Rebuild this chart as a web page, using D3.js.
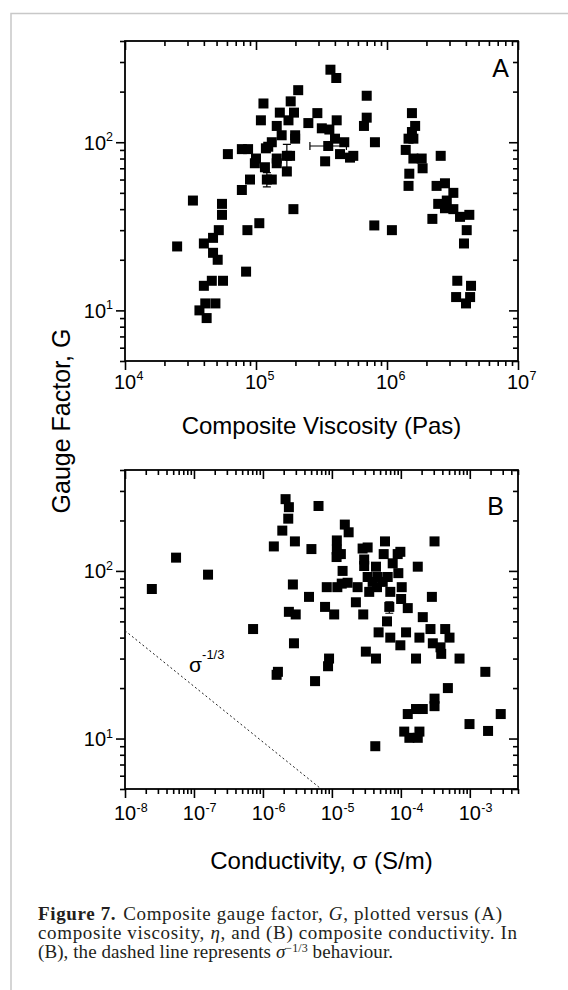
<!DOCTYPE html>
<html>
<head>
<meta charset="utf-8">
<script src="https://cdn.jsdelivr.net/npm/d3@7/dist/d3.min.js"></script>
<style>
  body { margin: 0; background: #fff; }
  svg { display: block; }
</style>
</head>
<body>
<div id="chart"></div>
<script>
// ---- data ----
// panel A: composite viscosity (Pa s) vs gauge factor G
var viscA = [6.1e4, 7.8e4, 8.7e4, 1.0e5, 9.8e4, 9.0e4, 7.8e4, 3.3e4, 5.5e4, 5.5e4,
    1.06e5, 8.6e4, 5.2e4, 4.7e4, 2.5e4, 4.0e4, 4.7e4, 5.1e4, 8.4e4, 4.6e4,
    5.6e4, 4.0e4, 4.1e4, 4.9e4, 3.7e4, 4.2e4,
    3.7e5, 4.1e5, 2.1e5, 7.0e5, 1.14e5, 1.84e5, 1.52e5, 1.95e5, 2.94e5, 1.09e5,
    1.77e5, 2.51e5, 4.13e5, 7.0e5, 6.67e5, 1.44e5, 1.57e5, 1.99e5, 1.99e5, 3.18e5,
    3.63e5, 4.01e5, 1.32e5, 1.24e5, 3.56e5, 4.72e5, 8.09e5, 1.19e5, 4.38e5, 5.22e5,
    5.53e5, 1.44e5, 1.44e5, 1.82e5, 1.72e5, 3.37e5, 1.17e5, 1.72e5, 1.21e5, 1.32e5,
    1.93e5, 8.0e5, 1.09e6,
    1.55e6, 1.64e6, 1.55e6, 1.46e6, 1.59e6, 1.39e6, 1.59e6, 1.84e6, 1.87e6, 1.48e6,
    1.46e6, 2.57e6, 2.39e6, 2.77e6, 3.21e6, 2.46e6, 2.86e6, 2.77e6, 3.21e6, 2.22e6,
    3.61e6, 4.25e6, 4.06e6, 3.87e6, 3.44e6, 4.38e6, 3.37e6, 4.01e6, 4.31e6];
var gaugeA = [85, 91, 91, 80, 75, 60, 52, 45, 43, 37,
    33, 30, 30, 27, 24, 25, 22, 20, 17, 15,
    15, 14, 11, 11, 10, 9,
    270, 241, 204, 189, 170, 175, 150, 150, 149, 135,
    135, 130, 135, 140, 125, 125, 110, 110, 105, 121,
    119, 105, 100, 94, 95, 100, 100, 92, 85, 81,
    83, 80, 75, 83, 83, 77, 71, 67, 60, 60,
    40, 32, 30,
    149, 125, 115, 105, 105, 90, 80, 80, 70, 65,
    55, 83, 55, 57, 50, 43, 45, 40.5, 40, 35,
    36, 37, 30, 25, 15, 14, 12, 11, 12];

// panel B: composite conductivity (S/m) vs gauge factor G
var condB = [2.45e-8, 5.5e-8, 1.6e-7, 7.2e-7, 2.13e-6, 2.38e-6, 6.4e-6, 2.33e-6, 1.91e-6, 1.44e-6,
    2.91e-6, 5.05e-6, 1.54e-5, 1.75e-5, 1.18e-5, 1.18e-5, 1.2e-5, 1.35e-5, 1.17e-5, 2.79e-5,
    3.3e-5, 5.89e-5, 3.08e-4, 5.64e-5, 9.0e-5, 9.84e-5, 2.94e-5, 2.94e-5, 4.36e-5, 7.62e-5,
    9.2e-5, 1.76e-4, 1.43e-5, 3.3e-5, 4.61e-5, 6.45e-5, 3.9e-5, 5.46e-5, 1.69e-5, 1.39e-5,
    2.36e-5, 1.2e-5, 8.43e-6, 4.51e-5, 7.03e-5, 1.03e-4, 3.48e-5, 2.72e-6, 4.66e-6, 1.01e-4,
    2.82e-4, 2.23e-5, 7.96e-6, 1.26e-4, 6.8e-5, 2.38e-6, 2.99e-6, 1.08e-5, 2.85e-5, 2.08e-4,
    6.3e-5, 4.76e-5, 1.19e-4, 2.69e-4, 4.4e-4, 7.03e-5, 1.86e-4, 5.08e-4, 9.84e-5, 2.91e-4,
    3.76e-4, 2.82e-6, 3.85e-4, 3.11e-5, 4.36e-5, 1.66e-4, 7.1e-4, 9.1e-6, 8.8e-6, 1.65e-6,
    1.58e-6, 5.7e-6, 4.81e-4, 3.08e-4, 3.08e-4, 1.68e-3, 1.26e-4, 1.66e-4, 2.08e-4, 2.81e-3,
    9.9e-4, 1.84e-3, 1.12e-4, 1.33e-4, 1.76e-4, 1.86e-4, 4.26e-5];
var gaugeB = [78, 120, 95, 45, 268, 240, 244, 205, 174, 140,
    150, 135, 189, 170, 152, 134, 126, 126, 121, 136,
    138, 150, 150, 126, 126, 130, 117, 107, 106, 111,
    97, 106, 100, 92, 92, 92, 86, 86, 85, 84,
    80, 80, 80, 80, 75, 80, 75, 83, 70, 68,
    70, 65, 61, 60, 61, 57, 55, 55, 55, 53,
    50, 43, 43, 45, 45, 40, 40, 40, 36, 37,
    35, 37, 32, 33, 30, 30, 30, 30, 27, 25,
    24, 22, 20, 17.3, 15.6, 25, 14, 15, 15, 14,
    12.2, 11.1, 11, 10.1, 10.1, 11, 9];

// error bars
var errXA_visc = [3.56e5], errXA_gauge = [95], errXA_lo = [2.58e5], errXA_hi = [4.9e5];
var errYA_visc = [1.21e5, 1.72e5], errYA_gauge = [60, 83], errYA_lo = [54.3, 71], errYA_hi = [66, 97];
var errYB_cond = [6.8e-5], errYB_gauge = [61], errYB_lo = [55.9], errYB_hi = [65.4];

// sigma^-1/3 guide line, end points
var guideCond = [1e-8, 7e-6];
var guideGauge = [44, 5];

// axis ranges and tick labels (powers of ten)
var gaugeDomain = [5, 400];
var viscDomain = [1e4, 1e7];
var condDomain = [1e-8, 5e-3];
var tickExpA = [4, 5, 6, 7];
var tickExpB = [-8, -7, -6, -5, -4, -3];
var tickExpY = [1, 2];

// ---- drawing ----
var svg = d3.select('#chart').append('svg').attr('width', 568).attr('height', 990);
var sans = "'Liberation Sans', Arial, Helvetica, sans-serif";
var serif = "'Liberation Serif', 'Times New Roman', serif";
var plotLeft = 125, plotRight = 518;

// page frame
svg.append('path')
    .attr('d', 'M11,990V13.5H568')
    .attr('fill', 'none')
    .attr('stroke', '#c8c8c8')
    .attr('stroke-width', 1.5);

function isDecade(v) {
    var l = Math.log10(v);
    return Math.abs(l - Math.round(l)) < 1e-6;
}

function drawPanel(cfg) {
    var x = d3.scaleLog().domain(cfg.xDomain).range([plotLeft, plotRight]);
    var y = d3.scaleLog().domain(gaugeDomain).range([cfg.bottom, cfg.top]);
    var g = svg.append('g');

    var xMajor = x.ticks().filter(isDecade), xMinor = x.ticks().filter(v => !isDecade(v));
    var yMajor = y.ticks().filter(isDecade), yMinor = y.ticks().filter(v => !isDecade(v));

    function addAxis(axis, tx, ty) {
        g.append('g')
            .attr('transform', 'translate(' + tx + ',' + ty + ')')
            .call(axis)
            .call(s => s.select('.domain').remove())
            .call(s => s.selectAll('text').remove())
            .selectAll('line')
            .attr('stroke', '#000')
            .attr('stroke-width', 1.6);
    }
    // bottom / left ticks point out, top / right ticks point in
    addAxis(d3.axisBottom(x).tickValues(xMajor).tickSize(9), 0, cfg.bottom);
    addAxis(d3.axisBottom(x).tickValues(xMinor).tickSize(5), 0, cfg.bottom);
    addAxis(d3.axisTop(x).tickValues(xMajor).tickSize(-9), 0, cfg.top);
    addAxis(d3.axisTop(x).tickValues(xMinor).tickSize(-5), 0, cfg.top);
    addAxis(d3.axisLeft(y).tickValues(yMajor).tickSize(9), plotLeft, 0);
    addAxis(d3.axisLeft(y).tickValues(yMinor).tickSize(5), plotLeft, 0);
    addAxis(d3.axisRight(y).tickValues(yMajor).tickSize(-9), plotRight, 0);
    addAxis(d3.axisRight(y).tickValues(yMinor).tickSize(-5), plotRight, 0);

    g.append('rect')
        .attr('x', plotLeft).attr('y', cfg.top)
        .attr('width', plotRight - plotLeft).attr('height', cfg.bottom - cfg.top)
        .attr('fill', 'none').attr('stroke', '#000').attr('stroke-width', 1.8);

    // x tick labels: "10" centred on the tick, exponent to its right
    cfg.xExp.forEach(function (e) {
        var px = x(Math.pow(10, e));
        g.append('text').attr('x', px).attr('y', cfg.bottom + cfg.labelDy)
            .attr('text-anchor', 'middle').attr('font-family', sans).attr('font-size', 20)
            .text('10');
        g.append('text').attr('x', px + 11.5).attr('y', cfg.bottom + cfg.labelDy - 8.5)
            .attr('font-family', sans).attr('font-size', 12.5)
            .text(String(e));
    });
    // y tick labels
    tickExpY.forEach(function (e) {
        var t = g.append('text').attr('x', plotLeft - 12).attr('y', y(Math.pow(10, e)) + 7.5)
            .attr('text-anchor', 'end').attr('font-family', sans).attr('font-size', 20);
        t.append('tspan').text('10');
        t.append('tspan').attr('dy', -8.5).attr('font-size', 12.5).text(String(e));
    });

    g.append('text')
        .attr('x', (plotLeft + plotRight) / 2).attr('y', cfg.bottom + cfg.titleDy)
        .attr('text-anchor', 'middle').attr('font-family', sans).attr('font-size', 24)
        .text(cfg.title);

    g.append('text')
        .attr('x', cfg.letterX).attr('y', cfg.letterY)
        .attr('text-anchor', 'end').attr('font-family', sans).attr('font-size', 25)
        .text(cfg.letter);

    return { x: x, y: y, g: g };
}

function drawPoints(p, xs, ys) {
    p.g.append('g').selectAll('rect')
        .data(xs)
        .enter()
        .append('rect')
        .attr('x', (d, i) => p.x(d) - 5)
        .attr('y', (d, i) => p.y(ys[i]) - 5)
        .attr('width', 10).attr('height', 10)
        .attr('fill', '#000');
}

function drawErrY(p, xs, ys, lo, hi) {
    xs.forEach(function (v, i) {
        var cx = p.x(v);
        var path = 'M' + cx + ',' + p.y(lo[i]) + 'V' + p.y(hi[i]) +
            'M' + (cx - 4) + ',' + p.y(lo[i]) + 'H' + (cx + 4) +
            'M' + (cx - 4) + ',' + p.y(hi[i]) + 'H' + (cx + 4);
        p.g.append('path').attr('d', path).attr('stroke', '#000').attr('stroke-width', 1.2).attr('fill', 'none');
    });
}

function drawErrX(p, xs, ys, lo, hi) {
    xs.forEach(function (v, i) {
        var cy = p.y(ys[i]);
        var path = 'M' + p.x(lo[i]) + ',' + cy + 'H' + p.x(hi[i]) +
            'M' + p.x(lo[i]) + ',' + (cy - 4) + 'V' + (cy + 4) +
            'M' + p.x(hi[i]) + ',' + (cy - 4) + 'V' + (cy + 4);
        p.g.append('path').attr('d', path).attr('stroke', '#000').attr('stroke-width', 1.2).attr('fill', 'none');
    });
}

var panelA = drawPanel({
    top: 41, bottom: 361, xDomain: viscDomain, xExp: tickExpA,
    labelDy: 27.5, titleDy: 73, title: 'Composite Viscosity (Pas)',
    letter: 'A', letterX: 509, letterY: 77
});
drawErrX(panelA, errXA_visc, errXA_gauge, errXA_lo, errXA_hi);
drawErrY(panelA, errYA_visc, errYA_gauge, errYA_lo, errYA_hi);
drawPoints(panelA, viscA, gaugeA);

var panelB = drawPanel({
    top: 470, bottom: 789, xDomain: condDomain, xExp: tickExpB,
    labelDy: 31, titleDy: 80, title: 'Conductivity, \u03c3 (S/m)',
    letter: 'B', letterX: 504, letterY: 515
});

// dotted sigma^-1/3 guide
var guide = d3.line()
    .x((d, i) => panelB.x(d))
    .y((d, i) => panelB.y(guideGauge[i]));
panelB.g.append('path')
    .attr('d', guide(guideCond))
    .attr('fill', 'none')
    .attr('stroke', '#222')
    .attr('stroke-width', 1)
    .attr('stroke-dasharray', '2,2.5');
var sig = panelB.g.append('text')
    .attr('x', panelB.x(8.5e-8)).attr('y', panelB.y(25))
    .attr('font-family', sans).attr('font-size', 21);
sig.append('tspan').text('\u03c3');
sig.append('tspan').attr('dy', -13).attr('font-size', 13).text('-1/3');

drawErrY(panelB, errYB_cond, errYB_gauge, errYB_lo, errYB_hi);
drawPoints(panelB, condB, gaugeB);

// shared y-axis title
svg.append('text')
    .attr('transform', 'translate(70,421) rotate(-90)')
    .attr('text-anchor', 'middle')
    .attr('font-family', sans).attr('font-size', 25)
    .text('Gauge Factor, G');

// caption, three lines stretched to the widths in the original
var capX = 38, capSize = 19, capColor = '#231f20';
function capLine(y, width) {
    return svg.append('text').attr('x', capX).attr('y', y)
        .attr('font-family', serif).attr('font-size', capSize).attr('fill', capColor)
        .attr('textLength', width).attr('lengthAdjust', 'spacing');
}
var cap1 = capLine(920, 464);
cap1.append('tspan').attr('font-weight', 'bold').text('Figure 7.');
cap1.append('tspan').attr('dx', 7).text('Composite gauge factor, ');
cap1.append('tspan').attr('font-style', 'italic').text('G');
cap1.append('tspan').text(', plotted versus (A)');

var cap2 = capLine(939, 479);
cap2.append('tspan').text('composite viscosity, ');
cap2.append('tspan').attr('font-style', 'italic').text('\u03b7');
cap2.append('tspan').text(', and (B) composite conductivity. In');

var cap3 = capLine(958, 355);
cap3.append('tspan').text('(B), the dashed line represents ');
cap3.append('tspan').attr('font-style', 'italic').text('\u03c3');
cap3.append('tspan').attr('dy', -6).attr('font-size', 12).text('\u22121/3');
cap3.append('tspan').attr('dy', 6).text(' behaviour.');
</script>
</body>
</html>
